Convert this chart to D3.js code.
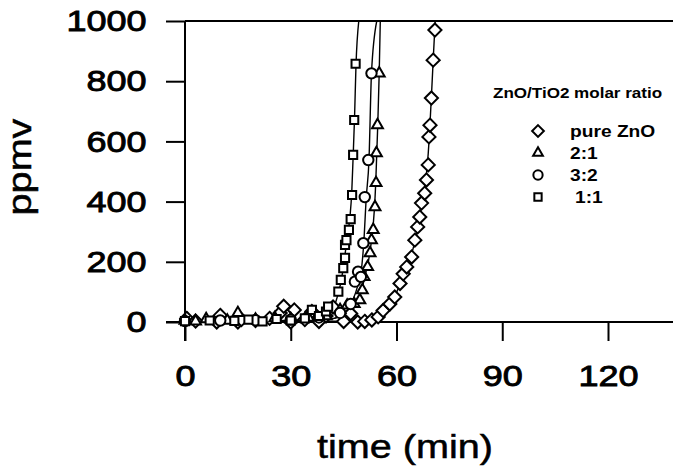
<!DOCTYPE html>
<html>
<head>
<meta charset="utf-8">
<script src="https://cdn.jsdelivr.net/npm/d3@7"></script>
<style>
  body { margin: 0; background: #fff; }
  svg { display: block; font-family: "Liberation Sans", Arial, sans-serif; }
</style>
</head>
<body>
<div id="chart"></div>
<script>
// ZnO / TiO2 breakthrough curves
const seriesNames = ["pure ZnO", "2:1", "3:2", "1:1"];
const seriesSymbols = ["diamond", "triangle", "circle", "square"];

// measured points [time (min), ppmv]
const pureZnO = [[0.5,12],[3,3],[9,0],[10,22],[15,0],[16,8],[20,5],[24,12],[27,30],[28,52],[30,0],[31,40],
  [34,8],[36,35],[38,2],[40,20],[42,50],[45,2],[47,28],[49,0],[51,2],[53,7],[54.8,17],[56.2,38],[58.1,60],
  [59.5,83],[61,128],[61.9,160],[62.9,183],[64.3,216],[65.2,272],[66,316],[66.6,349],[67.1,395],[68,428],
  [68.5,472],[69,522],[69.2,615],[69.5,654],[69.9,744],[70.4,870],[70.9,970]];
const ratio21 = [[0,5],[3,2],[6,10],[12,5],[15,30],[20,8],[25.5,13],[30,10],[35,15],[40,20],[44,40],[46,55],
  [48,60],[49.6,73],[50.3,106],[50.8,150],[51.8,183],[52.5,229],[52.9,272],[53.4,306],[53.9,382],[54.2,462],
  [54.3,561],[54.6,654],[55.1,826]];
const ratio32 = [[0,3],[10,5],[20,6],[30,8],[38,15],[44,30],[47,60],[48.2,134],[49.1,167],[49.9,150],
  [50.6,262],[51,415],[52,538],[52.9,826]];
const ratio11 = [[0,3],[7,5],[14,4],[18,8],[22,2],[26,10],[30,5],[34,12],[36,40],[38,20],[40,35],[40.6,51],
  [43.5,101],[44.2,140],[44.9,179],[45.4,213],[45.4,256],[45.8,272],[46.5,306],[47,342],[47.4,422],
  [47.7,555],[48,671],[48.4,858]];

// fitted curves as drawn in the figure
const fitZnO = [[0,2],[48,3],[52,5],[55,15],[57,40],[59,75],[61,125],[63,190],[64.5,235],[66,310],[67.3,400],
  [68.3,470],[69,560],[69.6,680],[70.2,820],[70.8,960],[71,1000]];
const fit21 = [[0,2],[40,8],[46,30],[48.5,60],[50,100],[51,150],[52,200],[53,280],[53.7,370],[54.1,460],
  [54.4,560],[54.7,660],[55.1,830],[55.4,1000]];
const fit32 = [[0,2],[40,8],[45,25],[47.5,70],[49,120],[50,170],[50.7,260],[51.4,410],[52.2,540],[52.9,826],
  [54.4,1000]];
const fit11 = [[0,2],[36,5],[40,20],[42,45],[43.5,95],[44.5,150],[45.3,215],[46,280],[46.8,350],[47.3,430],
  [47.7,550],[48.1,680],[48.5,850],[49.3,1000]];

const xTicks = [0, 30, 60, 90, 120];
const yTicks = [0, 200, 400, 600, 800, 1000];

const points = [pureZnO, ratio21, ratio32, ratio11];
const fits = [fitZnO, fit21, fit32, fit11];

const width = 673, height = 468;
const margin = { top: 21, left: 185, bottom: 146 };

const svg = d3.select("#chart").append("svg")
    .attr("width", width).attr("height", height);

const x = d3.scaleLinear().domain([0, 140]).range([margin.left, margin.left + 140 * 3.525]);
const y = d3.scaleLinear().domain([0, 1000]).range([height - margin.bottom, margin.top]);

// clip for the curves
svg.append("clipPath").attr("id", "plot")
  .append("rect").attr("x", x(0)).attr("y", y(1000)).attr("width", width).attr("height", y(0) - y(1000) + 10);

// axes
const yAxis = svg.append("g")
    .attr("transform", `translate(${x(0)},0)`)
    .call(d3.axisLeft(y).tickValues(yTicks).tickFormat(d3.format("d"))
      .tickSize(19).tickPadding(13).tickSizeOuter(0));
const xAxis = svg.append("g")
    .attr("transform", `translate(0,${y(0)})`)
    .call(d3.axisBottom(x).tickValues(xTicks).tickFormat(d3.format("d"))
      .tickSize(19).tickPadding(24).tickSizeOuter(0));

[yAxis, xAxis].forEach(g => {
  g.selectAll("path, line").attr("stroke", "#000").attr("stroke-width", 2);
  g.selectAll("text").attr("fill", "#000").style("font-size", "30px")
    .attr("stroke", "#000").attr("stroke-width", 0.9)
    .attr("transform", "scale(1.2,1)");
});
xAxis.select(".domain").attr("d", `M${x(0) - 19},0H${width}`);
yAxis.select(".domain").attr("d", `M0,${y(1000)}V${y(0) + 19}`);

// top frame line
svg.append("line")
    .attr("x1", x(0)).attr("x2", width)
    .attr("y1", y(1000)).attr("y2", y(1000))
    .attr("stroke", "#000").attr("stroke-width", 2);

// axis titles
svg.append("text")
    .attr("transform", `translate(405,458) scale(1.2,1)`)
    .attr("text-anchor", "middle")
    .style("font-size", "33px")
    .attr("stroke", "#000").attr("stroke-width", 0.5)
    .text("time (min)");
svg.append("text")
    .attr("transform", `translate(31,167) rotate(-90) scale(1.2,1)`)
    .attr("text-anchor", "middle")
    .style("font-size", "33px")
    .attr("stroke", "#000").attr("stroke-width", 0.5)
    .text("ppmv");

// fitted lines
const line = d3.line().x(d => x(d[0])).y(d => y(d[1])).curve(d3.curveMonotoneX);
svg.append("g").attr("clip-path", "url(#plot)")
  .selectAll("path").data(fits).join("path")
    .attr("d", line)
    .attr("fill", "none").attr("stroke", "#000").attr("stroke-width", 1.4);

// markers
const symbolSize = { diamond: 110, triangle: 85, circle: 85, square: 85 };
const symbolType = {
  diamond: d3.symbolDiamond2, triangle: d3.symbolTriangle2,
  circle: d3.symbolCircle2, square: d3.symbolSquare2
};
function drawSym(sel, name, scale) {
  sel.attr("d", d3.symbol(symbolType[name], symbolSize[name] * scale)())
    .attr("fill", "#fff").attr("stroke", "#000").attr("stroke-width", 2);
}

points.forEach((pts, i) => {
  const name = seriesSymbols[i];
  svg.append("g").selectAll("path").data(pts).join("path")
    .attr("transform", d => `translate(${x(d[0])},${y(d[1])})`)
    .call(drawSym, name, 1);
});

// legend
svg.append("text")
    .attr("transform", "translate(493,98) scale(1.1,1)")
    .style("font-size", "15.5px").style("font-weight", "bold")
    .text("ZnO/TiO2 molar ratio");

const legend = svg.append("g").selectAll("g").data(seriesNames).join("g")
    .attr("transform", (d, i) => `translate(538,${131 + i * 22})`);
legend.append("path").each(function(d, i) {
  d3.select(this).call(drawSym, seriesSymbols[i], 0.8);
});
legend.append("text")
    .attr("transform", (d, i) => `translate(${d === "1:1" ? 37 : 32},6) scale(1.2,1)`)
    .style("font-size", "16px").style("font-weight", "bold")
    .text(d => d);
</script>
</body>
</html>
